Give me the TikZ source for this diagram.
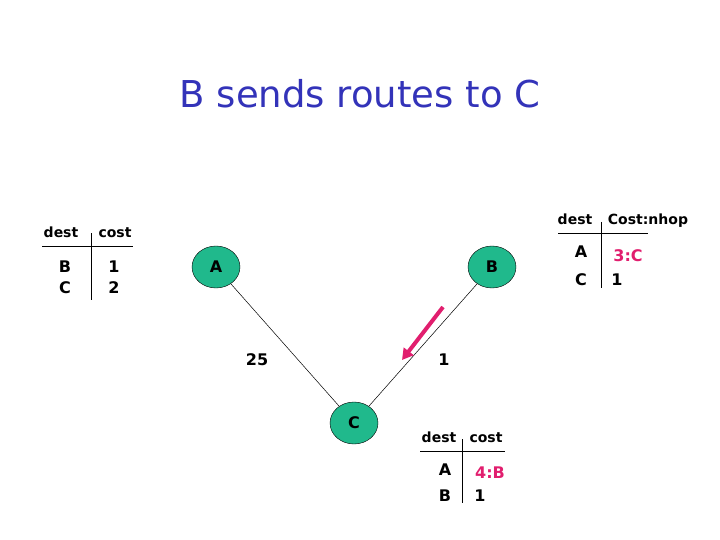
\documentclass[tikz,border=0pt]{standalone}
\usepackage{fontspec}
\setmainfont{DejaVu Sans}
\usetikzlibrary{shapes.geometric,arrows.meta}
\definecolor{routergreen}{RGB}{32,185,140}
\definecolor{titleblue}{RGB}{51,51,185}
\definecolor{hotpink}{RGB}{225,30,110}
\tikzset{
  router/.style={ellipse,draw,fill=routergreen,minimum width=48pt,minimum height=42pt,inner sep=0pt,font=\bfseries\fontsize{16}{16}\selectfont},
  head/.style={anchor=base,inner sep=0pt,font=\bfseries\fontsize{14}{14}\selectfont},
  entry/.style={anchor=base,inner sep=0pt,font=\bfseries\fontsize{16}{16}\selectfont},
  hot/.style={entry,text=hotpink}
}
\begin{document}
\begin{tikzpicture}[x=1pt,y=-1pt]

\useasboundingbox (0,0) rectangle (720,540);

\node[anchor=base,text=titleblue,font=\fontsize{37}{37}\selectfont] (title) at (360,108) {B sends routes to C};

\node[router] (A) at (216,267) {A};
\node[router] (B) at (492,267) {B};
\node[router] (C) at (354,423) {C};
\draw[line width=0.5pt] (A) -- (C);
\draw[line width=0.5pt] (B) -- (C);
\node[entry] (wAC) at (257,365) {25};
\node[entry] (wBC) at (444,365) {1};

\coordinate (tail) at (443,307);
\coordinate (tip) at (402,360);
\draw[hotpink,line width=4pt,-{Triangle[length=11pt,width=12pt]}] (tail) -- (tip);

\node[head] (Adest) at (61,237) {dest};
\node[head] (Acost) at (115,237) {cost};
\node[entry] (AB) at (65,272) {B};
\node[entry] (ABc) at (114,272) {1};
\node[entry] (AC) at (65,293) {C};
\node[entry] (ACc) at (114,293) {2};
\draw (42,246) -- (133,246);
\draw (91,233) -- (91,300);

\node[head] (Bdest) at (575,225) {dest};
\node[head] (Bcost) at (648,225) {Cost:nhop};
\node[entry] (BA) at (581,258) {A};
\node[hot] (BAc) at (628,261) {3:C};
\node[entry] (BC) at (581,285) {C};
\node[entry] (BCc) at (617,285) {1};
\draw (558,233) -- (648,233);
\draw (601,222) -- (601,288);

\node[head] (Cdest) at (439,442) {dest};
\node[head] (Ccost) at (486,442) {cost};
\node[entry] (CA) at (445,475) {A};
\node[hot] (CAc) at (490,478) {4:B};
\node[entry] (CB) at (445,501) {B};
\node[entry] (CBc) at (480,501) {1};
\draw (420,451) -- (505,451);
\draw (462,439) -- (462,503);

\end{tikzpicture}
\end{document}
